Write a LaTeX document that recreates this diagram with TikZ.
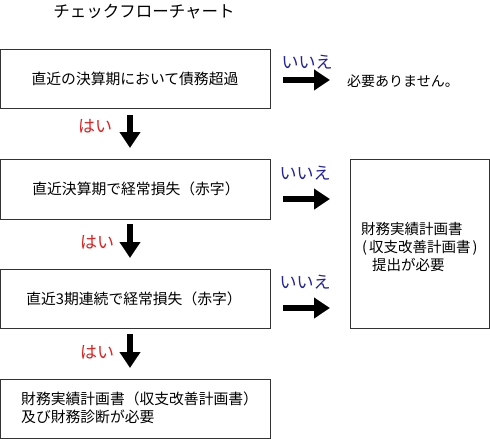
\documentclass[tikz,border=0pt]{standalone}
\usepackage{fontspec}
\newfontfamily\jp{Noto Sans CJK JP}
\usetikzlibrary{arrows.meta}
\definecolor{nocol}{RGB}{32,32,160}
\definecolor{yescol}{RGB}{224,32,32}
\tikzset{
  box/.style={draw=black!80, line width=0.9pt, rectangle, inner sep=0pt},
  txt/.style={font=\jp\fontsize{14.8pt}{17.5pt}\selectfont, inner sep=0pt},
  yes/.style={font=\jp\fontsize{17pt}{19pt}\selectfont, text=yescol, inner sep=0pt},
  no/.style={font=\jp\fontsize{17pt}{19pt}\selectfont, text=nocol, inner sep=0pt},
  bigarrow/.style={line width=6pt, -{Triangle[length=16pt,width=20pt]}},
}
\begin{document}
\begin{tikzpicture}[x=1pt,y=-1pt]
\useasboundingbox (0,0) rectangle (490,439);
% title
\node[font=\jp\fontsize{16.5pt}{18pt}\selectfont, inner sep=0pt] (title) at (144,12) {チェックフローチャート};
% boxes
\node[box, minimum width=270pt, minimum height=59pt] (b1) at (135,78.5) {};
\node[txt] (t1) at (135,79) {直近の決算期において債務超過};
\node[box, minimum width=270pt, minimum height=60pt] (b2) at (135,189) {};
\node[txt] (t2) at (136,189) {直近決算期で経常損失（赤字）};
\node[box, minimum width=270pt, minimum height=59pt] (b3) at (135,298.5) {};
\node[txt] (t3) at (134,299) {直近3期連続で経常損失（赤字）};
\node[box, minimum width=270pt, minimum height=59pt] (b4) at (135,408.5) {};
\node[txt, anchor=west, align=left] (t4) at (21,408) {財務実績計画書（収支改善計画書）\\及び財務診断が必要};
% right boxes/texts
\node[txt, font=\jp\fontsize{14pt}{16pt}\selectfont] (none) at (403,81) {必要ありません。};
\node[box, minimum width=139pt, minimum height=169pt] (rb) at (419.5,243.5) {};
\node[txt, anchor=west, align=left, font=\jp\fontsize{14.5pt}{18pt}\selectfont] (rt) at (361,247) {財務実績計画書\\\hspace{1pt}(\hspace{2pt}収支改善計画書\hspace{2pt})\\\hspace{11pt}提出が必要};
% horizontal arrows
\coordinate (h1s) at (283,80); \coordinate (h1e) at (330,80);
\coordinate (h2s) at (283,199); \coordinate (h2e) at (330,199);
\coordinate (h3s) at (283,308); \coordinate (h3e) at (330,308);
\draw[bigarrow] (h1s) -- (h1e);
\draw[bigarrow] (h2s) -- (h2e);
\draw[bigarrow] (h3s) -- (h3e);
\node[no] (n1) at (307,62) {いいえ};
\node[no] (n2) at (305,173) {いいえ};
\node[no] (n3) at (305,282) {いいえ};
% vertical arrows
\coordinate (v1s) at (130,115); \coordinate (v1e) at (130,148);
\coordinate (v2s) at (130,224); \coordinate (v2e) at (130,258);
\coordinate (v3s) at (130,334); \coordinate (v3e) at (130,368);
\draw[bigarrow] (v1s) -- (v1e);
\draw[bigarrow] (v2s) -- (v2e);
\draw[bigarrow] (v3s) -- (v3e);
\node[yes] (y1) at (95,126) {はい};
\node[yes] (y2) at (97,242) {はい};
\node[yes] (y3) at (97,352) {はい};
\end{tikzpicture}
\end{document}
